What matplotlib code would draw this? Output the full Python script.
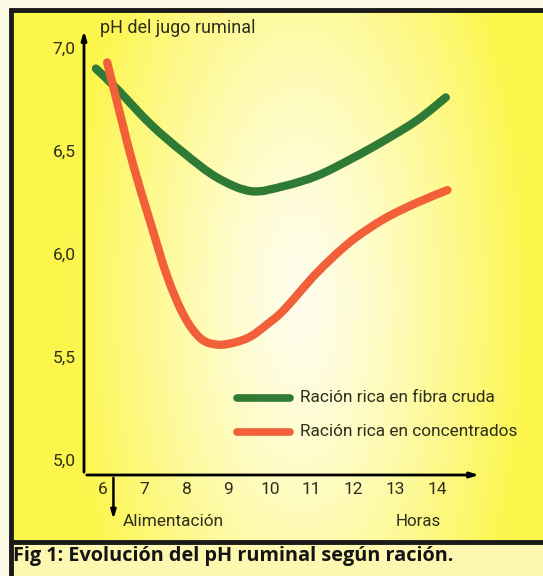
import numpy as np
import matplotlib
matplotlib.use("Agg")
import matplotlib.pyplot as plt
from matplotlib.patches import Rectangle, PathPatch
from matplotlib.path import Path
import matplotlib.transforms as mtransforms

# ---------------- data ----------------
hours_fibra = [5.83, 6.34, 7.14, 7.94, 8.74, 9.55, 10.34, 11.13, 11.93, 12.73, 13.53, 14.21]
ph_fibra = [6.90, 6.80, 6.63, 6.49, 6.37, 6.305, 6.33, 6.38, 6.46, 6.55, 6.65, 6.76]

hours_conc = [6.10, 6.42, 6.74, 7.14, 7.54, 7.94, 8.34, 8.74, 9.14, 9.54, 9.94, 10.34, 11.13,
              11.93, 12.73, 13.53, 14.25]
ph_conc = [6.93, 6.67, 6.42, 6.15, 5.89, 5.70, 5.59, 5.56, 5.57, 5.60, 5.66, 5.73, 5.91,
           6.06, 6.17, 6.25, 6.31]

x_ticks = [6, 7, 8, 9, 10, 11, 12, 13, 14]
y_ticks = [5.0, 5.5, 6.0, 6.5, 7.0]
y_tick_labels = ["5,0", "5,5", "6,0", "6,5", "7,0"]
feeding_hour = 6.25

label_fibra = "Ración rica en fibra cruda"
label_conc = "Ración rica en concentrados"
y_title = "pH del jugo ruminal"
caption = "Fig 1: Evolución del pH ruminal según ración."

col_fibra = "#2f7a34"
col_conc = "#f2603a"


def smooth_path(xs, ys):
    """Catmull-Rom curve through the given points, as cubic Bezier path segments."""
    p = np.column_stack([xs, ys]).astype(float)
    verts = [p[0]]
    codes = [Path.MOVETO]
    n = len(p)
    for i in range(n - 1):
        p0 = p[i - 1] if i > 0 else p[i]
        p1, p2 = p[i], p[i + 1]
        p3 = p[i + 2] if i + 2 < n else p[i + 1]
        c1 = p1 + (p2 - p0) / 6.0
        c2 = p2 - (p3 - p1) / 6.0
        verts += [c1, c2, p2]
        codes += [Path.CURVE4] * 3
    return Path(verts, codes)


# ---------------- figure ----------------
W, H = 543, 576
fig = plt.figure(figsize=(W / 100, H / 100), dpi=100)
fig.patch.set_facecolor("#fdfbe6")

cond = ["Roboto", "DejaVu Sans"]
txt_col = "#2e2e1c"

# background gradient inside frame (figure pixel coordinates)
bg_ax = fig.add_axes([0, 0, 1, 1])
bg_ax.set_xlim(0, W)
bg_ax.set_ylim(H, 0)
bg_ax.axis("off")
nx, ny = 300, 300
gx = np.linspace(12, W, nx)
gy = np.linspace(10, 541, ny)
GX, GY = np.meshgrid(gx, gy)
d = np.sqrt(((GX - 300) / 230.0) ** 2 + ((GY - 300) / 520.0) ** 2)
t = np.clip(d, 0, 1) ** 1.3
white = np.array([1.0, 0.995, 0.93])
yellow = np.array([0.99, 0.965, 0.30])
img = white[None, None, :] * (1 - t[..., None]) + yellow[None, None, :] * t[..., None]
bg_ax.imshow(img, extent=[12, W, 541, 10], aspect="auto", zorder=0)
# caption band
bg_ax.add_patch(Rectangle((12, 542), W - 12, 34, facecolor="#fdf7b0", edgecolor="none", zorder=1))
# frame lines
bg_ax.plot([10.5, 10.5], [8, H], color="#1a1a1a", lw=3.5, solid_capstyle="butt", zorder=2)
bg_ax.plot([9, W], [10, 10], color="#1a1a1a", lw=3.5, solid_capstyle="butt", zorder=2)
bg_ax.plot([9, W], [541.5, 541.5], color="#1a1a1a", lw=3.5, solid_capstyle="butt", zorder=2)
bg_ax.text(13, 556, caption, fontsize=14.3, fontweight="bold", family=["Open Sans", "DejaVu Sans"],
           color="#141414", va="center", ha="left", zorder=3)

# ---------------- main axes ----------------
px_left, px_right, px_top, px_bottom = 84, 482, 28, 475
ax = fig.add_axes([px_left / W, 1 - px_bottom / H, (px_right - px_left) / W, (px_bottom - px_top) / H])
ax.patch.set_alpha(0)
x_per_px = 1 / 41.75
ax.set_xlim(6 + (px_left - 103) * x_per_px, 6 + (px_right - 103) * x_per_px)
ax.set_ylim(5 + (460 - px_bottom) / 206, 5 + (460 - px_top) / 206)
for s in ax.spines.values():
    s.set_visible(False)

ax.set_xticks(x_ticks)
ax.set_xticklabels([str(v) for v in x_ticks], family=cond, fontsize=12.5, color=txt_col)
ax.set_yticks(y_ticks)
ax.set_yticklabels(y_tick_labels, family=cond, fontsize=12.5, color=txt_col)
ax.tick_params(axis="y", length=0, pad=6)
ax.tick_params(axis="x", length=0, pad=5)

# axes arrows
ax.annotate("", xy=(0, 1.0), xytext=(0, 0), xycoords="axes fraction",
            arrowprops=dict(arrowstyle="-|>,head_length=0.5,head_width=0.15", color="black", lw=2))
ax.annotate("", xy=(1.0, 0), xytext=(0, 0), xycoords="axes fraction",
            arrowprops=dict(arrowstyle="-|>,head_length=0.5,head_width=0.15", color="black", lw=2))
blend = mtransforms.blended_transform_factory(ax.transData, ax.transAxes)
ax.annotate("", xy=(feeding_hour, -0.105), xytext=(feeding_hour, 0), xycoords=blend, textcoords=blend,
            arrowprops=dict(arrowstyle="-|>,head_length=0.5,head_width=0.15", color="black", lw=1.8),
            annotation_clip=False)

for xs, ys, col in [(hours_fibra, ph_fibra, col_fibra), (hours_conc, ph_conc, col_conc)]:
    ax.add_patch(PathPatch(smooth_path(xs, ys), facecolor="none", edgecolor=col, lw=6,
                           capstyle="round", joinstyle="round"))

ax.text(0.04, 1.0, y_title, transform=ax.transAxes, family=cond, fontsize=13, color=txt_col,
        va="center", ha="left")
ax.text(feeding_hour + 0.22, -0.105, "Alimentación", transform=blend, family=cond, fontsize=12.4,
        color=txt_col, va="center", ha="left")
ax.text(14.1, -0.105, "Horas", transform=blend, family=cond, fontsize=12.2,
        color=txt_col, va="center", ha="right")

# legend (manual, as in the original)
leg_x0, leg_x1, leg_tx = 237, 290, 300
for ypix, col, lab in [(398, col_fibra, label_fibra), (432, col_conc, label_conc)]:
    bg_ax.plot([leg_x0, leg_x1], [ypix, ypix], color=col, lw=5.5, solid_capstyle="round", zorder=3)
    bg_ax.text(leg_tx, ypix, lab, family=cond, fontsize=12.4, color=txt_col, va="center", ha="left", zorder=3)

fig.savefig("out.png", dpi=100)
